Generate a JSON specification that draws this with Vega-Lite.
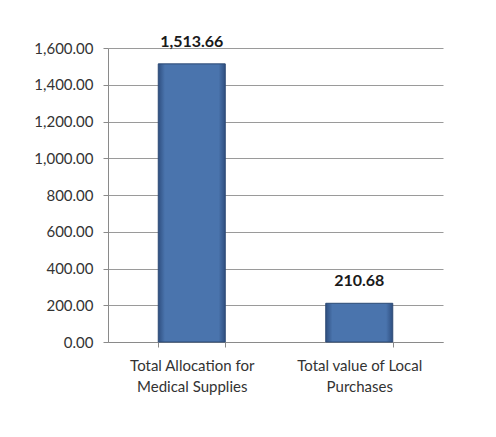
{
  "$schema": "https://vega.github.io/schema/vega-lite/v6.json",
  "width": 335,
  "height": 294,
  "autosize": {"type": "none"},
  "padding": {"left": 108, "top": 48, "right": 53, "bottom": 95},
  "background": "white",
  "config": {
    "view": {"stroke": null},
    "font": "Lato"
  },
  "data": {
    "values": [
      {"category": "Total Allocation for Medical Supplies", "value": 1513.66},
      {"category": "Total value of Local Purchases", "value": 210.68}
    ]
  },
  "encoding": {
    "x": {
      "field": "category",
      "type": "nominal",
      "sort": null,
      "scale": {"paddingInner": 0.6, "paddingOuter": 0.3},
      "axis": {
        "title": null,
        "labelAngle": 0,
        "labelFont": "Lato",
        "labelFontSize": 15,
        "labelColor": "#333333",
        "labelLineHeight": 21,
        "labelPadding": 11,
        "labelLimit": 200,
        "labelExpr": "datum.label == 'Total Allocation for Medical Supplies' ? ['Total Allocation for', 'Medical Supplies'] : datum.label == 'Total value of Local Purchases' ? ['Total value of Local', 'Purchases'] : ''",
        "tickBand": "extent",
        "tickSize": 5,
        "tickColor": "#8a8a8a",
        "domainColor": "#8a8a8a",
        "grid": false
      }
    },
    "y": {
      "field": "value",
      "type": "quantitative",
      "scale": {"domain": [0, 1600], "nice": false},
      "axis": {
        "title": null,
        "values": [0, 200, 400, 600, 800, 1000, 1200, 1400, 1600],
        "format": ",.2f",
        "labelFont": "Lato",
        "labelFontSize": 15,
        "labelColor": "#333333",
        "labelPadding": 10,
        "tickSize": 5,
        "tickColor": "#8a8a8a",
        "domainColor": "#8a8a8a",
        "gridColor": "#9a9a9a",
        "gridWidth": 1
      }
    }
  },
  "layer": [
    {
      "mark": {
        "type": "bar",
        "stroke": "#2c4a75",
        "strokeWidth": 1,
        "color": {
          "gradient": "linear",
          "x1": 0, "y1": 0, "x2": 1, "y2": 0,
          "stops": [
            {"offset": 0, "color": "#2f4f80"},
            {"offset": 0.1, "color": "#4a74ad"},
            {"offset": 0.9, "color": "#4a74ad"},
            {"offset": 1, "color": "#2f4f80"}
          ]
        }
      }
    },
    {
      "mark": {
        "type": "text",
        "baseline": "alphabetic",
        "dy": -17,
        "font": "Lato",
        "fontSize": 16,
        "fontWeight": "bold",
        "color": "#1a1a1a"
      },
      "encoding": {
        "text": {"field": "value", "type": "quantitative", "format": ",.2f"}
      }
    }
  ]
}
